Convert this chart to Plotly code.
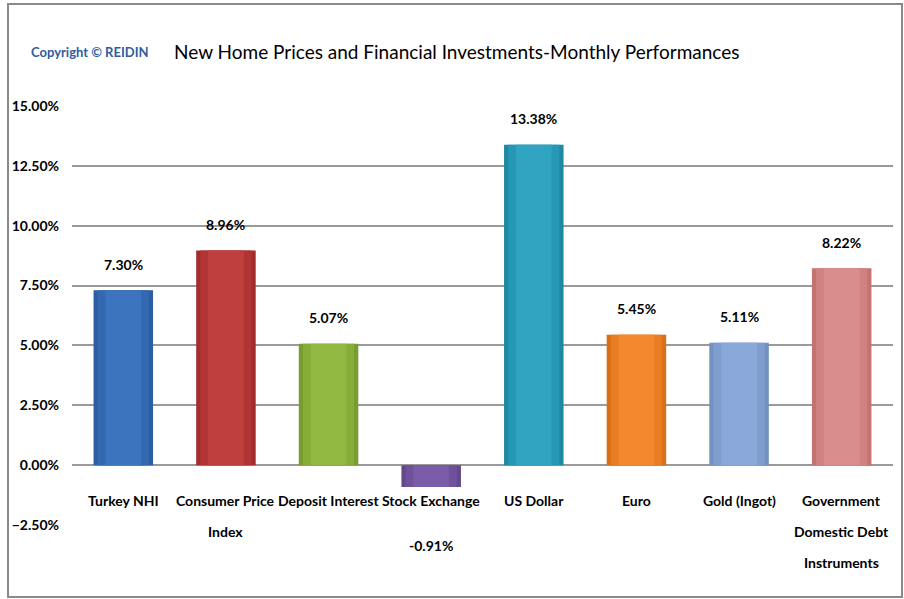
import plotly.graph_objects as go

categories = ["Turkey NHI", "Consumer Price<br>Index", "Deposit Interest", "Stock Exchange",
              "US Dollar", "Euro", "Gold (Ingot)", "Government<br>Domestic Debt<br>Instruments"]
values_pct = [7.30, 8.96, 5.07, -0.91, 13.38, 5.45, 5.11, 8.22]
value_labels = ["7.30%", "8.96%", "5.07%", "-0.91%", "13.38%", "5.45%", "5.11%", "8.22%"]
tick_vals = [-0.025, 0.0, 0.025, 0.05, 0.075, 0.10, 0.125, 0.15]

base_colors = ["#2c5ea3", "#a32c2c", "#779d30", "#64478c", "#2088a3", "#d8701a", "#7290c0", "#c47373"]
mid_colors = ["#3469b1", "#b33434", "#85ad38", "#70529c", "#2798b4", "#e87d24", "#809dcf", "#d08282"]
light_colors = ["#3c74bd", "#bf3e3e", "#91b942", "#7a5ca8", "#30a3c0", "#f3882e", "#8ba8da", "#da8d8d"]

values = [v / 100 for v in values_pct]
x = list(range(len(categories)))

FONT = "Lato, Roboto, sans-serif"
BAR_W = 0.58

fig = go.Figure()
fig.add_trace(go.Bar(x=x, y=values, width=BAR_W, marker=dict(color=base_colors, line=dict(width=0)),
                     hoverinfo="skip"))
fig.add_trace(go.Bar(x=x, y=values, width=BAR_W * 0.86, marker=dict(color=mid_colors, line=dict(width=0)),
                     hoverinfo="skip"))
fig.add_trace(go.Bar(x=x, y=values, width=BAR_W * 0.6, marker=dict(color=light_colors, line=dict(width=0)),
                     hoverinfo="skip"))

annotations = []
# category labels, each line placed below the zero line
for xi, cat in zip(x, categories):
    for li, line in enumerate(cat.split("<br>")):
        annotations.append(dict(x=xi, y=0, xref="x", yref="y", text="<b>" + line + "</b>", showarrow=False,
                                yanchor="middle", yshift=-35 - 31 * li,
                                font=dict(family=FONT, size=14, color="#000000")))
# value labels
for xi, v, lab in zip(x, values, value_labels):
    shift = 26 if v >= 0 else -80
    annotations.append(dict(x=xi, y=v if v >= 0 else 0, xref="x", yref="y", text="<b>" + lab + "</b>",
                            showarrow=False, yanchor="middle", yshift=shift,
                            font=dict(family=FONT, size=14, color="#000000")))

annotations.append(dict(x=(457 - 72) / 821, y=(525 - 52) / 419, xref="paper", yref="paper",
                        text="New Home Prices and Financial Investments-Monthly Performances",
                        showarrow=False, xanchor="center", yanchor="middle",
                        font=dict(family=FONT, size=19, color="#000000")))
annotations.append(dict(x=(90 - 72) / 821, y=(525 - 52) / 419, xref="paper", yref="paper",
                        text="<b>Copyright © REIDIN</b>",
                        showarrow=False, xanchor="center", yanchor="middle",
                        font=dict(family=FONT, size=13, color="#2f5d9e")))

fig.update_layout(
    width=904, height=599,
    margin=dict(l=72, r=11, t=106, b=74, autoexpand=False),
    paper_bgcolor="#ffffff", plot_bgcolor="#ffffff",
    barmode="overlay", showlegend=False,
    xaxis=dict(range=[-0.5, len(categories) - 0.5], showticklabels=False, showgrid=False,
               zeroline=False, fixedrange=True),
    yaxis=dict(range=[-0.025, 0.15], tickvals=tick_vals, tickformat=".2%",
               showgrid=True, gridcolor="#9a9a9a", gridwidth=1.5, zeroline=False,
               tickfont=dict(family=FONT, size=14, color="#000000", weight="bold"),
               ticklabelstandoff=12, automargin=False, fixedrange=True),
    annotations=annotations,
    shapes=[dict(type="rect", xref="paper", yref="paper",
                 x0=(8 - 72) / 821, x1=(902 - 72) / 821, y0=(525 - 597) / 419, y1=(525 - 4) / 419,
                 line=dict(color="#8a8a8a", width=2), layer="below")],
)

fig.write_html("out.html", config={"displayModeBar": False},
               post_script="document.body.style.margin='0';")
